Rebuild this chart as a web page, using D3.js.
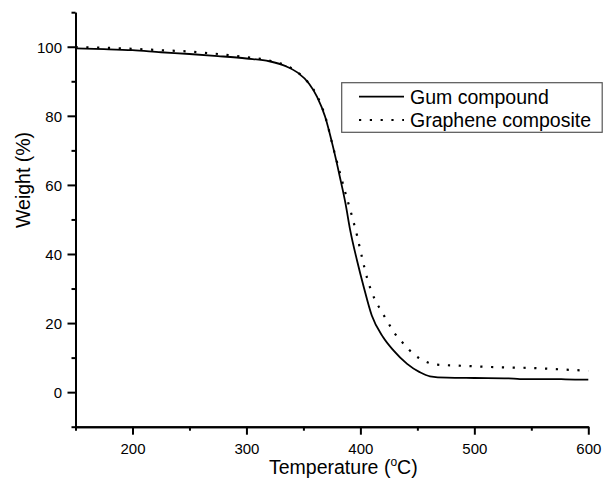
<!DOCTYPE html>
<html>
<head>
<meta charset="utf-8">
<script src="https://cdn.jsdelivr.net/npm/d3@7/dist/d3.min.js"></script>
<style>
  html, body { margin: 0; padding: 0; background: #fff; }
  svg { display: block; }
  text { font-family: "Liberation Sans", Arial, sans-serif; fill: #000; }
</style>
</head>
<body>
<svg id="chart" width="604" height="479"></svg>
<script>
// Thermogravimetric curves: weight loss vs temperature
const gumTemp = [150, 175, 200, 225, 250, 275, 300, 320, 335, 345, 355, 362, 369, 376, 382, 387, 391, 397, 403, 410, 420, 429, 441, 452, 461, 476, 500, 530, 540, 570, 580, 600];
const gumWeight = [99.5, 99.3, 99.0, 98.4, 97.9, 97.3, 96.6, 95.8, 94.3, 92.5, 89.3, 85.5, 79.8, 71.0, 62.3, 54.5, 47.0, 38.2, 30.4, 22.2, 15.9, 12.1, 8.2, 5.8, 4.6, 4.2, 4.1, 4.0, 3.8, 3.8, 3.7, 3.6];

const grapheneTemp = [150, 175, 200, 225, 250, 275, 300, 320, 335, 345, 355, 362, 369, 376, 382, 387, 392, 397, 401, 406, 413, 418, 424, 430, 438, 447, 457, 466, 485, 522, 550, 575, 600];
const grapheneWeight = [99.9, 99.7, 99.4, 99.0, 98.6, 97.9, 97.0, 96.0, 94.5, 92.6, 89.3, 85.8, 80.0, 71.0, 63.5, 57.5, 51.7, 45.4, 39.6, 32.9, 26.6, 23.7, 20.3, 17.1, 14.0, 10.9, 8.9, 8.0, 7.7, 7.2, 7.0, 6.6, 6.2];

const seriesNames = ["Gum compound", "Graphene composite"];

const xMajorTicks = [200, 300, 400, 500, 600];
const xMinorTicks = [150, 250, 350, 450, 550];
const yMajorTicks = [0, 20, 40, 60, 80, 100];
const yMinorTicks = [-10, 10, 30, 50, 70, 90, 110];

const svg = d3.select("#chart");

const plotLeft = 75.5, plotRight = 588.3, plotTop = 12.2, plotBottom = 426.7;
const x = d3.scaleLinear().domain([150, 600]).range([plotLeft, plotRight]);
const y = d3.scaleLinear().domain([-10, 110]).range([plotBottom, plotTop]);

// Axes
function styleAxis(g) {
  g.select(".domain").attr("stroke", "#000").attr("stroke-width", 2);
  g.selectAll(".tick line").attr("stroke", "#000").attr("stroke-width", 2);
}

svg.append("g")
  .attr("transform", `translate(0,${plotBottom})`)
  .call(d3.axisBottom(x).tickValues(xMinorTicks).tickSize(4).tickSizeOuter(0).tickFormat(""))
  .call(styleAxis);

const xAxis = svg.append("g")
  .attr("transform", `translate(0,${plotBottom})`)
  .call(d3.axisBottom(x).tickValues(xMajorTicks).tickSize(8).tickSizeOuter(0).tickPadding(0).tickFormat(d3.format("d")))
  .call(styleAxis);
xAxis.selectAll(".tick text")
  .attr("y", 27.5).attr("dy", null)
  .style("font-size", "15px")
  .style("font-family", '"Liberation Sans", Arial, sans-serif');

svg.append("g")
  .attr("transform", `translate(${plotLeft},0)`)
  .call(d3.axisLeft(y).tickValues(yMinorTicks).tickSize(4).tickSizeOuter(0).tickFormat(""))
  .call(styleAxis);

const yAxis = svg.append("g")
  .attr("transform", `translate(${plotLeft},0)`)
  .call(d3.axisLeft(y).tickValues(yMajorTicks).tickSize(8).tickSizeOuter(0).tickFormat(d3.format("d")))
  .call(styleAxis);
yAxis.selectAll(".tick text")
  .attr("x", -13.5).attr("dy", null).attr("y", 5.3)
  .style("font-size", "15px")
  .style("font-family", '"Liberation Sans", Arial, sans-serif');

// Axis titles
const xTitle = svg.append("text")
  .attr("x", 269).attr("y", 474)
  .style("font-size", "19.5px");
xTitle.append("tspan").text("Temperature (");
xTitle.append("tspan").attr("dy", -8).style("font-size", "12px").text("o");
xTitle.append("tspan").attr("dy", 8).text("C)");

svg.append("text")
  .attr("transform", "translate(30,228) rotate(-90)")
  .style("font-size", "19.5px")
  .text("Weight (%)");

// Curves
const line = d3.line()
  .x(d => x(d[0]))
  .y(d => y(d[1]))
  .curve(d3.curveMonotoneX);

const gumData = gumTemp.map((t, i) => [t, gumWeight[i]]);
const grapheneData = grapheneTemp.map((t, i) => [t, grapheneWeight[i]]);

svg.append("path")
  .datum(grapheneData)
  .attr("d", line)
  .attr("fill", "none")
  .attr("stroke", "#000")
  .attr("stroke-width", 2.2)
  .attr("stroke-dasharray", "2.2,8.6");

svg.append("path")
  .datum(gumData)
  .attr("d", line)
  .attr("fill", "none")
  .attr("stroke", "#000")
  .attr("stroke-width", 1.8);

// Legend
const legend = svg.append("g");
legend.append("rect")
  .attr("x", 341.7).attr("y", 82.7)
  .attr("width", 260.5).attr("height", 49.6)
  .attr("fill", "#fff")
  .attr("stroke", "#555")
  .attr("stroke-width", 1.2);

const legendRows = [
  { name: seriesNames[0], dash: null, width: 1.8, ly: 96.7, ty: 103.5 },
  { name: seriesNames[1], dash: "2.2,8.6", width: 2.2, ly: 120, ty: 126.5 }
];
legendRows.forEach(r => {
  legend.append("line")
    .attr("x1", 359).attr("x2", 404)
    .attr("y1", r.ly).attr("y2", r.ly)
    .attr("stroke", "#000")
    .attr("stroke-width", r.width)
    .attr("stroke-dasharray", r.dash);
  legend.append("text")
    .attr("x", 410).attr("y", r.ty)
    .style("font-size", "19.5px")
    .text(r.name);
});
</script>
</body>
</html>
